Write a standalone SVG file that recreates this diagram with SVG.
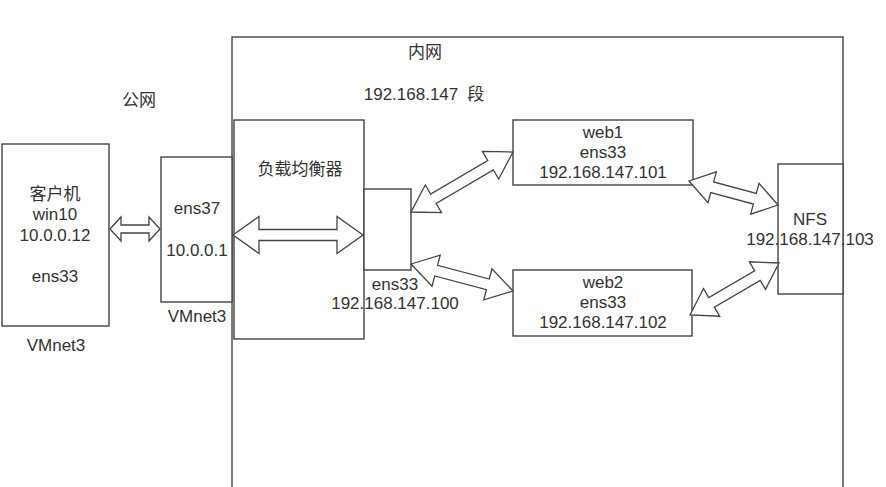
<svg xmlns="http://www.w3.org/2000/svg" width="886" height="487" viewBox="0 0 886 487">
<style>
.box{fill:#fff;stroke:#444;stroke-width:1.4}
.frame{fill:none;stroke:#444;stroke-width:1.4}
.arr{fill:#fff;stroke:#444;stroke-width:1.3;stroke-linejoin:miter}
text{font-family:"Liberation Sans","Noto Sans CJK SC",Arial,sans-serif;font-size:17px;fill:#333;text-anchor:middle}
</style>
<rect width="886" height="487" fill="#fff"/>
<g id="intranet">
<rect class="frame" x="232" y="37" width="611" height="460"/>
<text x="425" y="58">内网</text>
<text x="424" y="100">192.168.147<tspan dx="9">段</tspan></text>
</g>
<text x="139" y="106">公网</text>
<g id="client">
<rect class="box" x="2" y="144" width="107" height="182"/>
<text x="55" y="200">客户机</text>
<text x="55" y="220">win10</text>
<text x="55" y="241">10.0.0.12</text>
<text x="55" y="282">ens33</text>
<text x="56" y="351">VMnet3</text>
</g>
<g id="ens37">
<rect class="box" x="161" y="157" width="71" height="145"/>
<text x="197" y="214">ens37</text>
<text x="197" y="256">10.0.0.1</text>
<text x="197" y="322">VMnet3</text>
</g>
<g id="lb">
<rect class="box" x="234" y="120" width="130" height="219"/>
<text x="300" y="175">负载均衡器</text>
</g>
<g id="lb-ens33">
<rect class="box" x="364" y="189" width="47" height="81"/>
<text x="395" y="290">ens33</text>
<text x="395" y="309">192.168.147.100</text>
</g>
<g id="web1">
<rect class="box" x="513" y="120" width="180" height="65"/>
<text x="603" y="138">web1</text>
<text x="603" y="158">ens33</text>
<text x="603" y="178">192.168.147.101</text>
</g>
<g id="web2">
<rect class="box" x="513" y="270" width="179" height="66"/>
<text x="603" y="288">web2</text>
<text x="603" y="308">ens33</text>
<text x="603" y="328">192.168.147.102</text>
</g>
<g id="nfs">
<rect class="box" x="778" y="164" width="65" height="130"/>
<text x="810" y="225">NFS</text>
<text x="810" y="245">192.168.147.103</text>
</g>
<g id="connectors">
<polygon class="arr" transform="translate(110,229)" points="0,0 11,-12 11,-4 39,-4 39,-12 50,0 39,12 39,4 11,4 11,12"/>
<polygon class="arr" transform="translate(233,235)" points="0,0 26,-18.5 26,-5.5 104,-5.5 104,-18.5 130,0 104,18.5 104,5.5 26,5.5 26,18.5"/>
<polygon class="arr" transform="translate(411,212) rotate(-30.47)" points="0,0 26,-16 26,-5.5 92.3,-5.5 92.3,-16 118.3,0 92.3,16 92.3,5.5 26,5.5 26,16"/>
<polygon class="arr" transform="translate(411,264) rotate(14.83)" points="0,0 26,-16 26,-5.5 79.5,-5.5 79.5,-16 105.5,0 79.5,16 79.5,5.5 26,5.5 26,16"/>
<polygon class="arr" transform="translate(689,181) rotate(15.09)" points="0,0 24,-16 24,-5.5 68.2,-5.5 68.2,-16 92.2,0 68.2,16 68.2,5.5 24,5.5 24,16"/>
<polygon class="arr" transform="translate(690,315) rotate(-30.3)" points="0,0 25,-16 25,-5.5 78.1,-5.5 78.1,-16 103.1,0 78.1,16 78.1,5.5 25,5.5 25,16"/>
</g>
</svg>
